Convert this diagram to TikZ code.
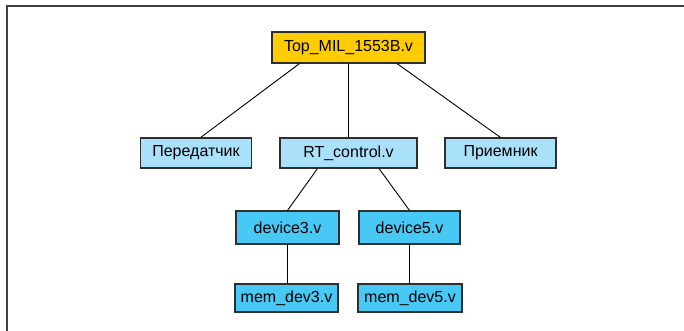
\documentclass[tikz,border=0pt]{standalone}
\usepackage{fontspec}
\setmainfont{Liberation Sans}
\definecolor{topfill}{HTML}{FFCC00}
\definecolor{midfill}{HTML}{A9E0FA}
\definecolor{lowfill}{HTML}{48C8F4}
\definecolor{edge}{HTML}{2E2E2E}
\definecolor{frame}{HTML}{404040}
\tikzset{
  modbox/.style={draw=edge, line width=1.1pt, rectangle, inner sep=0pt,
    font=\fontsize{16pt}{19pt}\selectfont, text=black},
  link/.style={draw=black, line width=0.9pt}
}
\begin{document}
\begin{tikzpicture}[x=1pt, y=-1pt]
\useasboundingbox (0,0) rectangle (684,331);
% outer frame, open on the right and bottom
\draw[frame, line width=2pt] (6.5,331) -- (6.5,6.5) -- (684,6.5);

% module hierarchy
\node[modbox, fill=topfill, minimum width=153pt, minimum height=31pt] (top) at (348.5,47.5) {Top\_MIL\_1553B.v};
\node[modbox, fill=midfill, minimum width=111.5pt, minimum height=30pt] (tx) at (196,153) {Передатчик};
\node[modbox, fill=midfill, minimum width=137pt, minimum height=30pt] (rt) at (348.5,153) {RT\_control.v};
\node[modbox, fill=midfill, minimum width=111pt, minimum height=30pt] (rx) at (500.5,153) {Приемник};
\node[modbox, fill=lowfill, minimum width=103pt, minimum height=33pt] (d3) at (287.5,227.5) {device3.v};
\node[modbox, fill=lowfill, minimum width=101pt, minimum height=33pt] (d5) at (409.5,227.5) {device5.v};
\node[modbox, fill=lowfill, minimum width=103pt, minimum height=28pt] (m3) at (286.5,298) {mem\_dev3.v};
\node[modbox, fill=lowfill, minimum width=104pt, minimum height=28pt] (m5) at (410,298) {mem\_dev5.v};

% connectors
\draw[link] ([xshift=-49pt]top.south) -- ([xshift=4.7pt]tx.north);
\draw[link] (top.south) -- (rt.north);
\draw[link] ([xshift=48.5pt]top.south) -- (rx.north);
\draw[link] ([xshift=-31pt]rt.south) -- (d3.north);
\draw[link] ([xshift=30.5pt]rt.south) -- (d5.north);
\draw[link] (d3.south) -- (d3.south |- m3.north);
\draw[link] (d5.south) -- (d5.south |- m5.north);
\end{tikzpicture}
\end{document}
